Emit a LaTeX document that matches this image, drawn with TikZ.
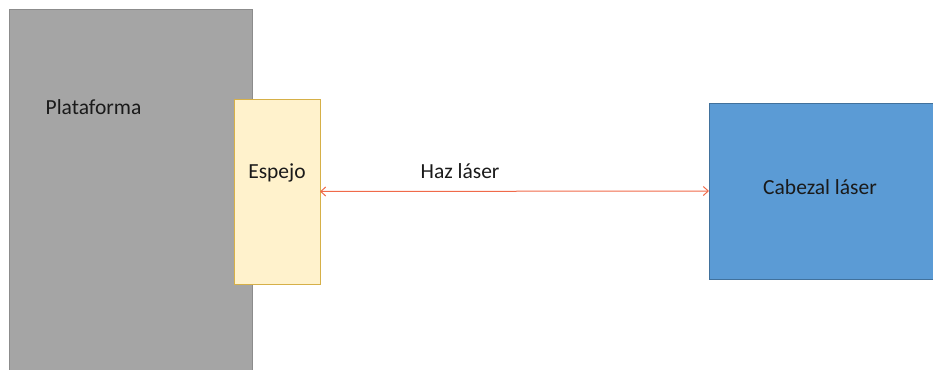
\documentclass[tikz,border=0pt]{standalone}
\usepackage{fontspec}
\setmainfont{Carlito}
\usetikzlibrary{arrows.meta}
\definecolor{platfill}{HTML}{A5A5A5}
\definecolor{platdraw}{HTML}{8C8C8C}
\definecolor{espfill}{HTML}{FFF2CC}
\definecolor{espdraw}{HTML}{D6B048}
\definecolor{cabfill}{HTML}{5B9BD5}
\definecolor{cabdraw}{HTML}{41719C}
\definecolor{laser}{HTML}{F06A4A}
\definecolor{txt}{HTML}{1A1A1A}
\tikzset{
  box/.style={rectangle, inner sep=0pt, outer sep=0pt, line width=1pt},
  lbl/.style={font=\fontsize{21.5}{25}\selectfont, text=txt, inner sep=0pt},
  beam/.style={draw=laser, line width=1pt, {Straight Barb[length=5pt,width=9pt]}-{Straight Barb[length=5pt,width=9pt]}}
}
\begin{document}
\begin{tikzpicture}[x=1pt,y=-1pt]
\useasboundingbox (0,0) rectangle (933,369);
\node[box, fill=platfill, draw=platdraw, minimum width=243pt, minimum height=364pt, anchor=north west] (plat) at (9.5,10) {};
\node[lbl] (platl) at (93.5,107) {Plataforma};
\node[box, fill=espfill, draw=espdraw, minimum width=86pt, minimum height=185pt, anchor=north west] (esp) at (234,99) {};
\node[lbl] (espl) at (277,173) {Espejo};
\node[box, fill=cabfill, draw=cabdraw, minimum width=226pt, minimum height=176pt, anchor=north west] (cab) at (709,103) {};
\node[lbl] (cabl) at (820,187) {Cabezal láser};
\draw[beam] (esp.east) -- (cab.west) node[lbl, pos=0.36, above=12pt] (haz) {Haz láser};
\end{tikzpicture}
\end{document}
